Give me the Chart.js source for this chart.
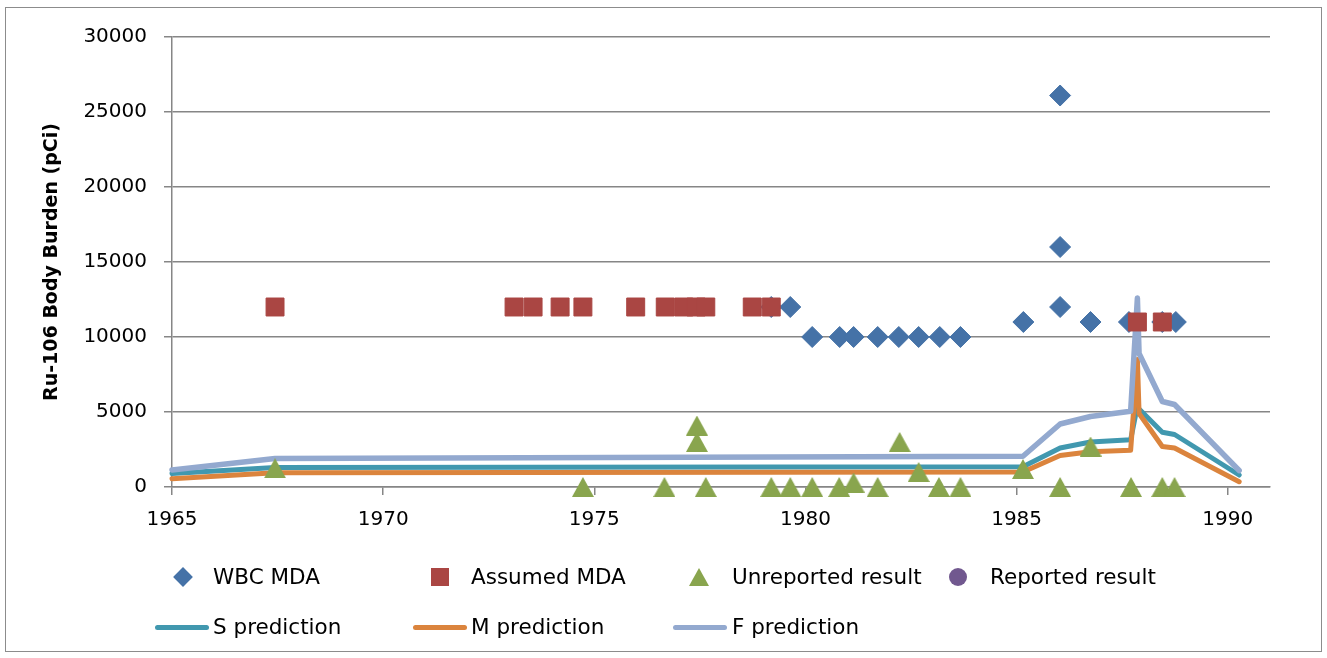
<!DOCTYPE html>
<html>
<head>
<meta charset="utf-8">
<script src="https://cdn.jsdelivr.net/npm/chart.js@4.4.1/dist/chart.umd.min.js"></script>
<style>
  html, body { margin: 0; padding: 0; background: #fff; }
  #wrap { position: relative; width: 1327px; height: 658px; overflow: hidden; }
  #frame { position: absolute; left: 5px; top: 7px; width: 1315px; height: 643px; border: 1px solid #8c8c8c; pointer-events: none; }
  #chart { position: absolute; left: 0; top: 0; }
  .lg { position: absolute; font: 21.5px "DejaVu Sans", sans-serif; color: #000; white-space: nowrap; line-height: 1; transform: translateY(-50%); }
  .mk { position: absolute; }
</style>
</head>
<body>
<div id="wrap">
  <canvas id="chart" width="1327" height="658"></canvas>
  <div id="legend"></div>
  <div id="frame"></div>
</div>
<script>
// WBC MDA (diamonds)
const wbcYears = [1979.19, 1979.64, 1980.16, 1980.81, 1981.14, 1981.71, 1982.21, 1982.68, 1983.18, 1983.67,
                  1985.16, 1986.03, 1986.03, 1986.03, 1986.75, 1987.66, 1988.45, 1988.77];
const wbcValues = [12000, 12000, 10000, 10000, 10000, 10000, 10000, 10000, 10000, 10000,
                   11000, 26100, 16000, 12000, 11000, 11000, 11000, 11000];

// Assumed MDA (squares)
const assumedYears = [1967.44, 1973.10, 1973.55, 1974.19, 1974.73, 1975.98, 1976.68, 1977.12, 1977.41, 1977.64,
                      1978.74, 1979.19, 1987.86, 1988.45];
const assumedValues = [12000, 12000, 12000, 12000, 12000, 12000, 12000, 12000, 12000, 12000,
                       12000, 12000, 11000, 11000];

// Unreported result (triangles)
const unrepYears = [1967.44, 1974.73, 1976.66, 1977.43, 1977.43, 1977.64, 1979.19, 1979.64, 1980.16, 1980.80,
                    1981.14, 1981.71, 1982.23, 1982.68, 1983.16, 1983.67, 1985.15, 1986.03, 1986.75, 1987.71,
                    1988.45, 1988.74];
const unrepValues = [1250, 0, 0, 4100, 3000, 0, 0, 0, 0, 0,
                     300, 0, 3000, 1000, 0, 0, 1200, 0, 2700, 0,
                     0, 0];

// Reported result (none plotted)
const repYears = [];
const repValues = [];

// model predictions
const predYears = [1965, 1967.44, 1985.15, 1986.03, 1986.75, 1987.70, 1987.86, 1987.90, 1988.45, 1988.74, 1990.27];
const sPred = [900, 1300, 1350, 2600, 3000, 3150, 5400, 5200, 3650, 3500, 800];
const mPred = [550, 950, 1000, 2100, 2350, 2450, 8500, 4900, 2700, 2600, 350];
const fPred = [1130, 1900, 2050, 4200, 4700, 5050, 12600, 8900, 5700, 5500, 1100];

// axis ticks
const xTicks = [1965, 1970, 1975, 1980, 1985, 1990];

const FONT = '"DejaVu Sans", sans-serif';
const GRID = '#868686';

const pts = (xs, ys) => xs.map((x, i) => ({ x: x, y: ys[i] }));

// Excel centres the triangle's box on the value, so draw our own marker image
function triangleMarker(color) {
  const c = document.createElement('canvas');
  c.width = 22; c.height = 20;
  const g = c.getContext('2d');
  g.fillStyle = color;
  g.beginPath();
  g.moveTo(11, 0);
  g.lineTo(22, 20);
  g.lineTo(0, 20);
  g.closePath();
  g.fill();
  return c;
}

const ctx = document.getElementById('chart');
new Chart(ctx, {
  type: 'scatter',
  data: {
    datasets: [
      { label: 'WBC MDA', data: pts(wbcYears, wbcValues), pointStyle: 'rectRot', pointRadius: 10.5,
        backgroundColor: '#4572A7', borderColor: '#4572A7', borderWidth: 1, order: 2, clip: false },
      { label: 'Assumed MDA', data: pts(assumedYears, assumedValues), pointStyle: 'rect', pointRadius: 12.7,
        backgroundColor: '#AA4643', borderColor: '#AA4643', borderWidth: 1, order: 1, clip: false },
      { label: 'Unreported result', data: pts(unrepYears, unrepValues), pointStyle: triangleMarker('#89A54E'),
        pointRadius: 11, backgroundColor: '#89A54E', borderColor: '#89A54E', order: 3, clip: false },
      { label: 'Reported result', data: pts(repYears, repValues), pointStyle: 'circle', pointRadius: 9,
        backgroundColor: '#71588F', borderColor: '#71588F', order: 4, clip: false },
      { label: 'S prediction', data: pts(predYears, sPred), showLine: true, pointRadius: 0, tension: 0,
        borderColor: '#4198AF', borderWidth: 5, borderCapStyle: 'round', borderJoinStyle: 'round', order: 7, clip: false },
      { label: 'M prediction', data: pts(predYears, mPred), showLine: true, pointRadius: 0, tension: 0,
        borderColor: '#DB843D', borderWidth: 5, borderCapStyle: 'round', borderJoinStyle: 'round', order: 6, clip: false },
      { label: 'F prediction', data: pts(predYears, fPred), showLine: true, pointRadius: 0, tension: 0,
        borderColor: '#93A9CF', borderWidth: 5.5, borderCapStyle: 'round', borderJoinStyle: 'round', order: 5, clip: false }
    ]
  },
  options: {
    responsive: false,
    animation: false,
    layout: { padding: { top: 37, right: 57, left: 0, bottom: 0 } },
    plugins: { legend: { display: false }, tooltip: { enabled: false } },
    events: [],
    scales: {
      x: {
        type: 'linear', min: 1965, max: 1991,
        afterBuildTicks: s => { s.ticks = xTicks.map(v => ({ value: v })); },
        afterFit: s => { s.height = 171; },
        ticks: { color: '#000', font: { family: FONT, size: 20 }, padding: 13, maxRotation: 0, autoSkip: false,
                 callback: v => String(v) },
        grid: { drawOnChartArea: false, drawTicks: true, tickLength: 8, color: GRID, lineWidth: 1.5 },
        border: { color: GRID, width: 1.5 }
      },
      y: {
        min: 0, max: 30000,
        afterFit: s => { s.width = 172; },
        ticks: { stepSize: 5000, color: '#000', font: { family: FONT, size: 20 }, padding: 17,
                 callback: v => String(v) },
        grid: { color: GRID, lineWidth: 1.5, tickLength: 8 },
        border: { color: GRID, width: 1.5 },
        title: { display: true, text: 'Ru-106 Body Burden (pCi)', color: '#000',
                 font: { family: FONT, size: 19, weight: 'bold' }, padding: { top: 41, bottom: 0 } }
      }
    }
  }
});

// legend laid out in fixed columns like the original
const legendItems = [
  { label: 'WBC MDA', kind: 'diamond', color: '#4572A7', mx: 183, tx: 213, y: 577 },
  { label: 'Assumed MDA', kind: 'square', color: '#AA4643', mx: 440, tx: 471, y: 577 },
  { label: 'Unreported result', kind: 'triangle', color: '#89A54E', mx: 699, tx: 732, y: 577 },
  { label: 'Reported result', kind: 'circle', color: '#71588F', mx: 958, tx: 990, y: 577 },
  { label: 'S prediction', kind: 'line', color: '#4198AF', mx: 155, tx: 213, y: 627 },
  { label: 'M prediction', kind: 'line', color: '#DB843D', mx: 413, tx: 471, y: 627 },
  { label: 'F prediction', kind: 'line', color: '#93A9CF', mx: 673, tx: 732, y: 627 }
];

const legend = document.getElementById('legend');
legendItems.forEach(it => {
  const mk = document.createElement('div');
  mk.className = 'mk';
  if (it.kind === 'diamond') {
    Object.assign(mk.style, { left: (it.mx - 7) + 'px', top: (it.y - 7) + 'px', width: '14px', height: '14px',
      background: it.color, transform: 'rotate(45deg)' });
  } else if (it.kind === 'square') {
    Object.assign(mk.style, { left: (it.mx - 9) + 'px', top: (it.y - 9) + 'px', width: '18px', height: '18px',
      background: it.color });
  } else if (it.kind === 'triangle') {
    Object.assign(mk.style, { left: (it.mx - 10) + 'px', top: (it.y - 9) + 'px', width: 0, height: 0,
      borderLeft: '10px solid transparent', borderRight: '10px solid transparent', borderBottom: '18px solid ' + it.color });
  } else if (it.kind === 'circle') {
    Object.assign(mk.style, { left: (it.mx - 9) + 'px', top: (it.y - 9) + 'px', width: '18px', height: '18px',
      background: it.color, borderRadius: '50%' });
  } else {
    Object.assign(mk.style, { left: it.mx + 'px', top: (it.y - 2.5) + 'px', width: '54px', height: '5px',
      background: it.color, borderRadius: '3px' });
  }
  legend.appendChild(mk);

  const tx = document.createElement('div');
  tx.className = 'lg';
  tx.style.left = it.tx + 'px';
  tx.style.top = it.y + 'px';
  tx.textContent = it.label;
  legend.appendChild(tx);
});
</script>
</body>
</html>
